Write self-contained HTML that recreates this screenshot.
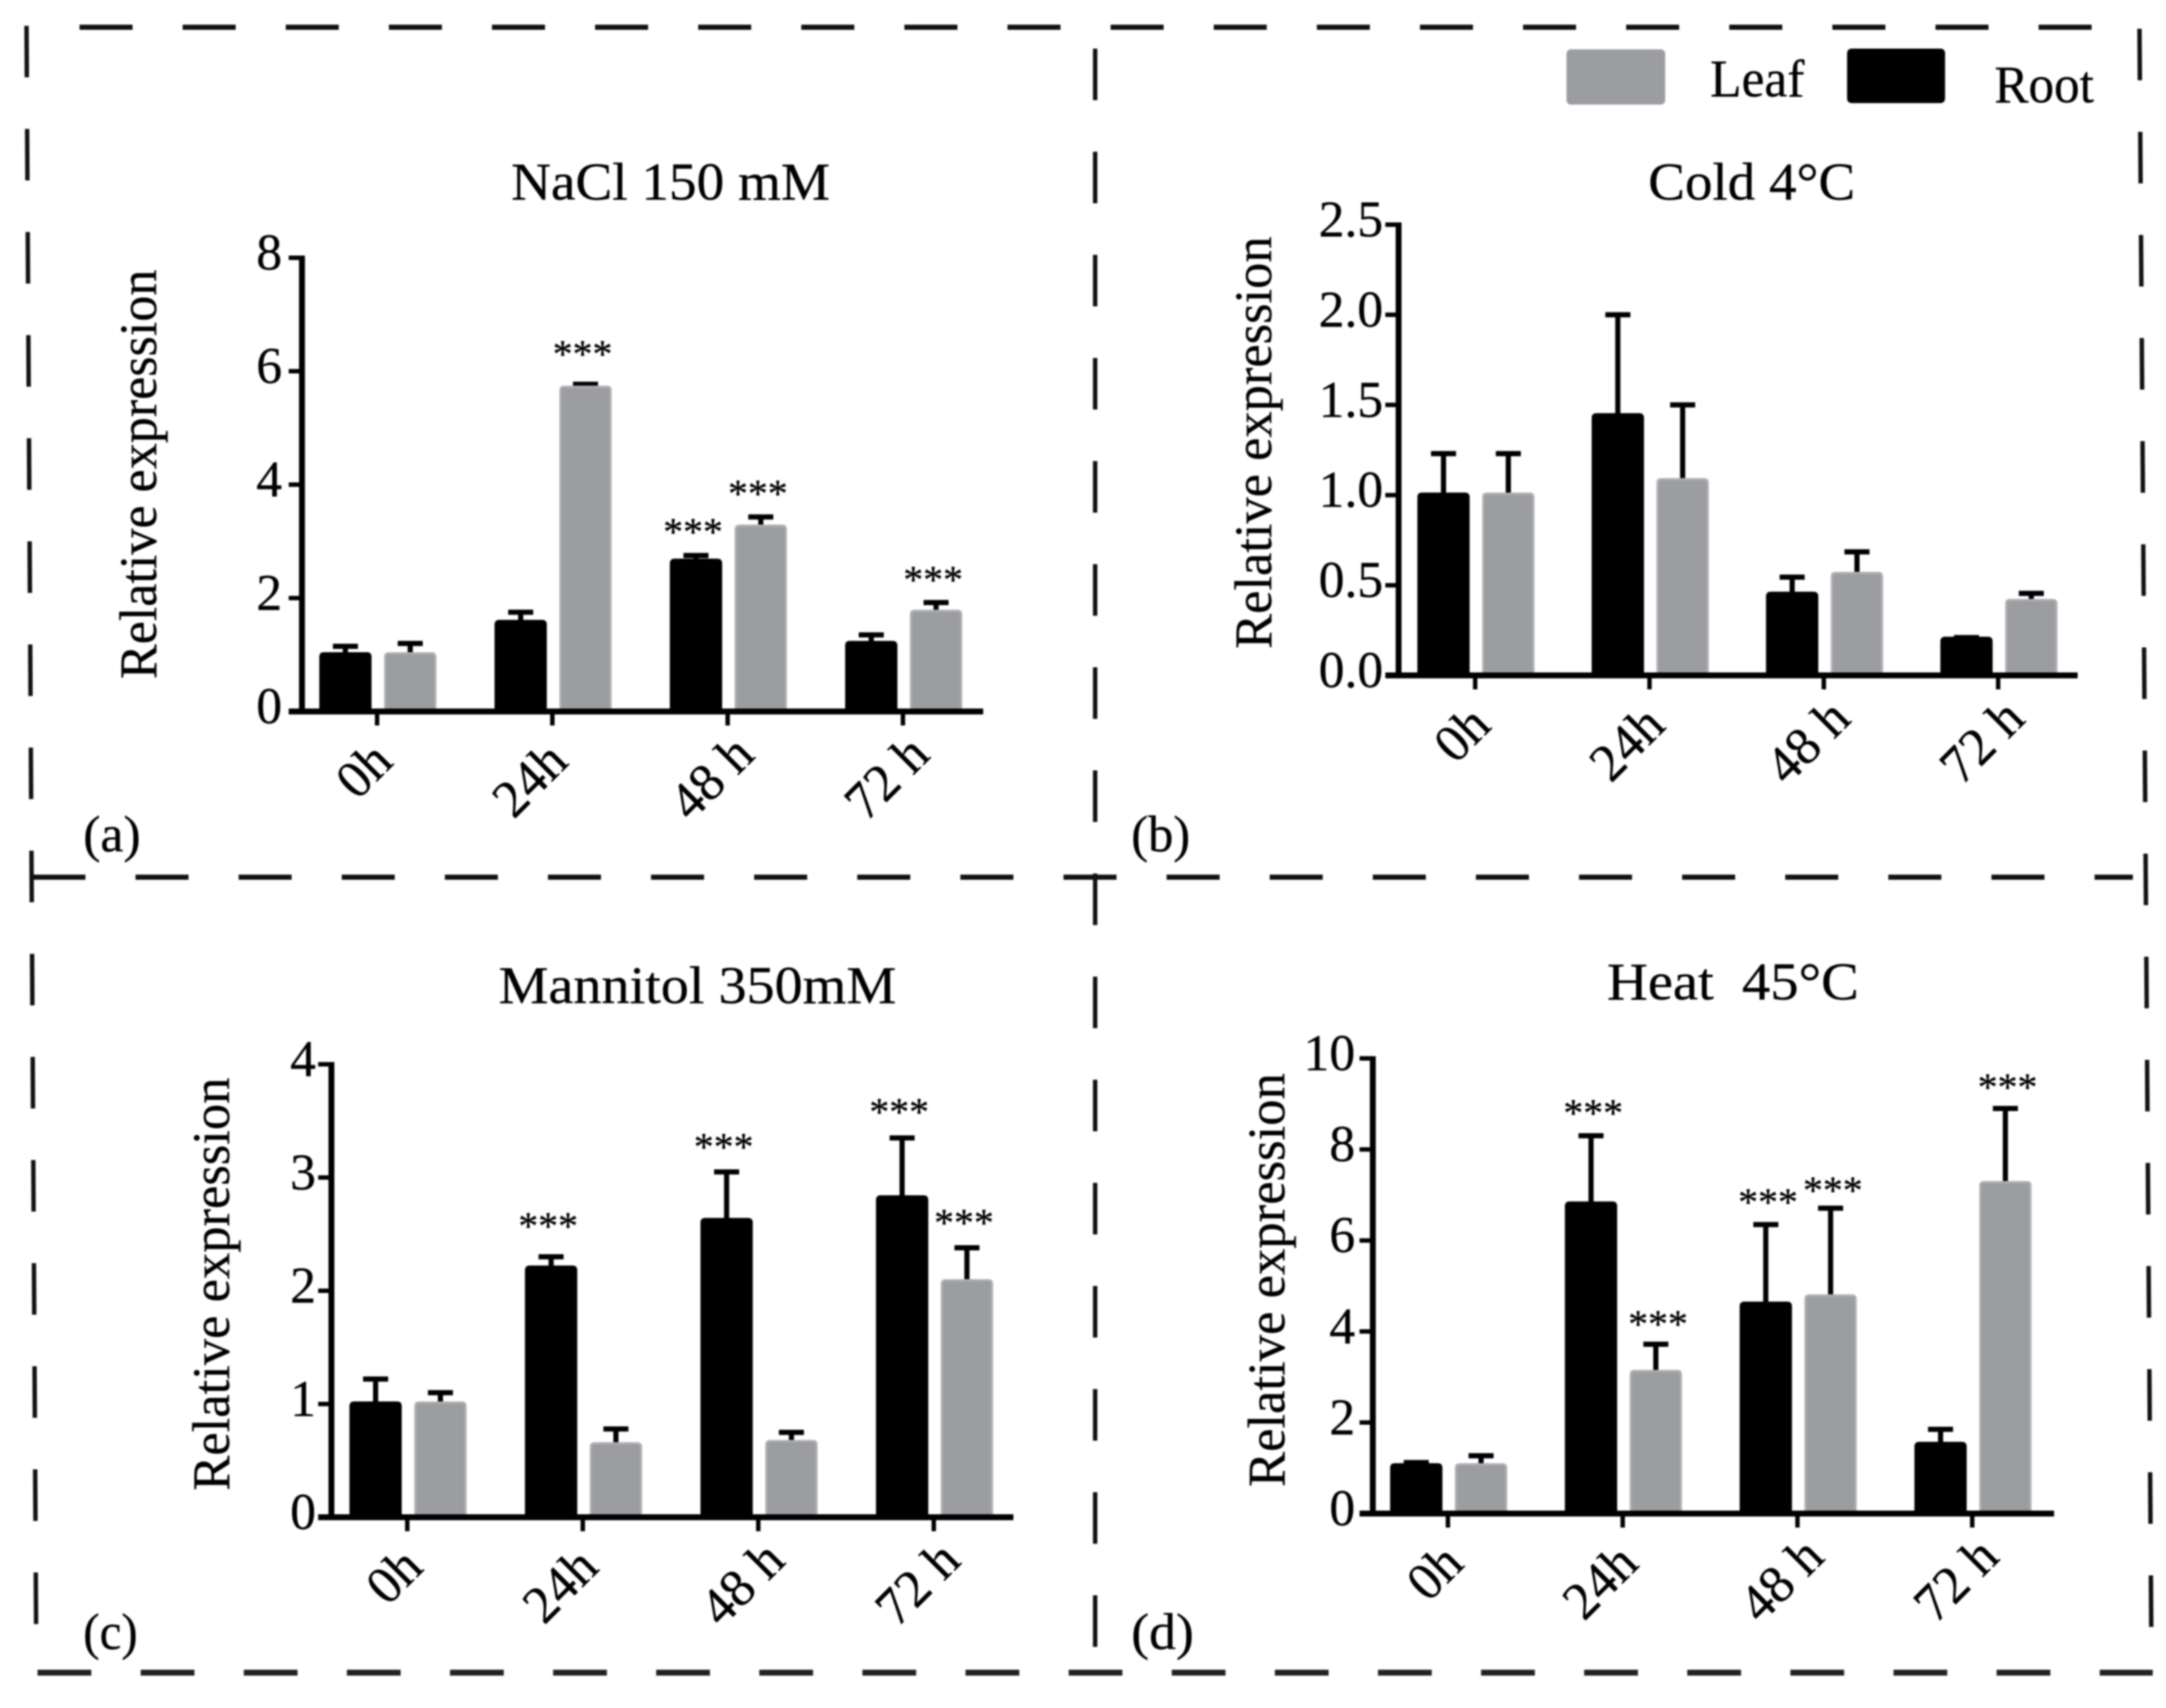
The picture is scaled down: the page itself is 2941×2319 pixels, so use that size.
<!DOCTYPE html>
<html lang="en">
<head>
<meta charset="utf-8">
<title>Relative expression under stress treatments</title>
<style>
html,body{margin:0;padding:0;background:#fff;width:2941px;height:2319px;overflow:hidden}
svg{display:block;filter:blur(1px)}
text{font-family:"Liberation Serif",serif;fill:#000;stroke:#000;stroke-width:.4px}
</style>
</head>
<body>
<svg id="figure" xmlns="http://www.w3.org/2000/svg" width="2941" height="2319" viewBox="0 0 2941 2319">
  <rect x="0" y="0" width="2941" height="2319" fill="#fff"/>

  <g stroke="#111" fill="none">
    <line x1="108" y1="37" x2="2840" y2="37" stroke-width="7" stroke-dasharray="72 68"/>
    <line x1="44" y1="1191" x2="2896" y2="1191" stroke-width="7" stroke-dasharray="72 68"/>
    <line x1="51" y1="2271" x2="2923" y2="2271" stroke-width="8" stroke-dasharray="73 67" stroke="#222"/>
    <line x1="36" y1="35" x2="49" y2="2205" stroke-width="6" stroke-dasharray="70 70"/>
    <line x1="1487" y1="66" x2="1487" y2="2236" stroke-width="6" stroke-dasharray="70 70"/>
    <line x1="2905" y1="39" x2="2921" y2="2209" stroke-width="6" stroke-dasharray="70 70"/>
  </g>

  <g>
    <rect x="2127" y="67" width="134" height="75" rx="6" fill="#9c9da1"/>
    <text x="2322" y="131" font-size="72" textLength="128" lengthAdjust="spacingAndGlyphs">Leaf</text>
    <rect x="2508" y="66" width="133" height="74" rx="6" fill="#000"/>
    <text x="2708" y="139" font-size="72" textLength="135" lengthAdjust="spacingAndGlyphs">Root</text>
  </g>

  <text x="694" y="271" font-size="72" textLength="433" lengthAdjust="spacingAndGlyphs">NaCl 150 mM</text>
  <text x="2238" y="271" font-size="72" textLength="281" lengthAdjust="spacingAndGlyphs">Cold 4°C</text>
  <text x="677" y="1362" font-size="72" textLength="540" lengthAdjust="spacingAndGlyphs">Mannitol 350mM</text>
  <text x="2182" y="1357" font-size="72" textLength="342" lengthAdjust="spacingAndGlyphs">Heat&#160;&#160;45°C</text>

  <text transform="translate(212 922) rotate(-90)" font-size="72" textLength="556" lengthAdjust="spacingAndGlyphs">Relative expression</text>
  <text transform="translate(1726 881) rotate(-90)" font-size="72" textLength="560" lengthAdjust="spacingAndGlyphs">Relative expression</text>
  <text transform="translate(311 2024) rotate(-90)" font-size="72" textLength="561" lengthAdjust="spacingAndGlyphs">Relative expression</text>
  <text transform="translate(1744 2019) rotate(-90)" font-size="72" textLength="562" lengthAdjust="spacingAndGlyphs">Relative expression</text>

  <text x="113" y="1156" font-size="70" textLength="78" lengthAdjust="spacingAndGlyphs">(a)</text>
  <text x="1536" y="1156" font-size="70" textLength="80" lengthAdjust="spacingAndGlyphs">(b)</text>
  <text x="113" y="2239" font-size="70" textLength="74" lengthAdjust="spacingAndGlyphs">(c)</text>
  <text x="1536" y="2239" font-size="70" textLength="85" lengthAdjust="spacingAndGlyphs">(d)</text>

  <g id="charts"></g>
</svg>

<script>
// Shared categories
const categories = ['0h', '24h', '48 h', '72 h'];

// (a) NaCl 150 mM
const naclTickValues = [0, 2, 4, 6, 8];
const naclTickLabels = ['0', '2', '4', '6', '8'];
const naclRoot = [1.0, 1.57, 2.65, 1.2];
const naclRootErr = [1.15, 1.75, 2.75, 1.35];
const naclLeaf = [1.0, 5.7, 3.25, 1.75];
const naclLeafErr = [1.2, 5.77, 3.43, 1.92];
const naclRootStars = [null, null, 3.25, null];
const naclLeafStars = [null, 6.38, 3.92, 2.4];

// (b) Cold 4°C
const coldTickValues = [0, 0.5, 1, 1.5, 2, 2.5];
const coldTickLabels = ['0.0', '0.5', '1.0', '1.5', '2.0', '2.5'];
const coldRoot = [1.0, 1.44, 0.45, 0.2];
const coldRootErr = [1.23, 2.0, 0.545, 0.21];
const coldLeaf = [1.0, 1.08, 0.56, 0.41];
const coldLeafErr = [1.23, 1.5, 0.685, 0.455];
const coldRootStars = [null, null, null, null];
const coldLeafStars = [null, null, null, null];

// (c) Mannitol 350 mM
const mannitolTickValues = [0, 1, 2, 3, 4];
const mannitolTickLabels = ['0', '1', '2', '3', '4'];
const mannitolRoot = [1.0, 2.2, 2.62, 2.82];
const mannitolRootErr = [1.22, 2.3, 3.05, 3.35];
const mannitolLeaf = [1.0, 0.64, 0.66, 2.08];
const mannitolLeafErr = [1.1, 0.78, 0.75, 2.38];
const mannitolRootStars = [null, 2.61, 3.31, 3.62];
const mannitolLeafStars = [null, null, null, 2.64];

// (d) Heat 45°C
const heatTickValues = [0, 2, 4, 6, 8, 10];
const heatTickLabels = ['0', '2', '4', '6', '8', '10'];
const heatRoot = [1.05, 6.8, 4.6, 1.52];
const heatRootErr = [1.12, 8.3, 6.35, 1.85];
const heatLeaf = [1.05, 3.1, 4.76, 7.25];
const heatLeafErr = [1.27, 3.72, 6.71, 8.9];
const heatRootStars = [null, 8.9, 6.94, null];
const heatLeafStars = [null, 4.26, 7.2, 9.47];

const SVG_NS = 'http://www.w3.org/2000/svg';
const chartsRoot = document.getElementById('charts');

function make(tag, parent, attrs) {
  const node = document.createElementNS(SVG_NS, tag);
  for (const key in attrs) node.setAttribute(key, attrs[key]);
  parent.appendChild(node);
  return node;
}

function drawBar(g, cx, top, bottom, fill, edge) {
  const w = 68, left = cx - w / 2, r = 5;
  const el = make('path', g, {
    d: 'M' + left + ' ' + bottom + 'V' + (top + r) + 'Q' + left + ' ' + top + ' ' + (left + r) + ' ' + top +
       'H' + (left + w - r) + 'Q' + (left + w) + ' ' + top + ' ' + (left + w) + ' ' + (top + r) + 'V' + bottom + 'Z',
    fill: fill,
    stroke: edge,
    'stroke-width': 3
  });
  return el;
}

function drawChart(opts) {
  const g = make('g', chartsRoot, {});
  
  

  const yPos = function (v) { return opts.y0 - (v / opts.yMax) * (opts.y0 - opts.yTop); };
  const xPos = function (i) { return opts.firstTick + i * opts.tickStep; };

  // error bars are painted first so the bars overlap the lower end
  categories.forEach(function (cat, i) {
    [[opts.root, opts.rootErr, -43, 'root'], [opts.leaf, opts.leafErr, 45, 'leaf']].forEach(function (s) {
      const cx = xPos(i) + s[2];
      const errGroup = make('g', g, { stroke: '#000', fill: 'none' });
      
      
      make('line', errGroup, { x1: cx, x2: cx, y1: yPos(s[0][i]), y2: yPos(s[1][i]), 'stroke-width': 7 });
      make('line', errGroup, { x1: cx - 17, x2: cx + 17, y1: yPos(s[1][i]), y2: yPos(s[1][i]), 'stroke-width': 7 });
    });
  });

  categories.forEach(function (cat, i) {
    const rootBar = drawBar(g, xPos(i) - 43, yPos(opts.root[i]) - 2, opts.y0, '#000', '#000');
    
    
    const leafBar = drawBar(g, xPos(i) + 45, yPos(opts.leaf[i]) - 2, opts.y0, '#9c9da1', '#aeafb2');
    
    

    if (opts.rootStars[i] !== null) {
      const star = make('text', g, { x: xPos(i) - 43 + opts.starDx, y: yPos(opts.rootStars[i]) + 24, 'font-size': 54, 'text-anchor': 'middle' });
      star.textContent = '***';
      
      
    }
    if (opts.leafStars[i] !== null) {
      const star = make('text', g, { x: xPos(i) + 45 + opts.starDx, y: yPos(opts.leafStars[i]) + 24, 'font-size': 54, 'text-anchor': 'middle' });
      star.textContent = '***';
      
      
    }

    const tick = make('line', g, { x1: xPos(i), x2: xPos(i), y1: opts.y0, y2: opts.y0 + 19, stroke: '#000', 'stroke-width': 6 });
    
    

    const spaced = cat.indexOf(' ') >= 0;
    const lx = xPos(i) + (spaced ? 39 : 24);
    const ly = opts.y0 + (spaced ? 62 : 71);
    const label = make('text', g, { 'font-size': 72, 'text-anchor': 'end', transform: 'translate(' + lx + ' ' + ly + ') rotate(-45)' });
    label.textContent = cat;
    
    
  });

  opts.tickValues.forEach(function (v, i) {
    const tick = make('line', g, { x1: opts.axisX - 18, x2: opts.axisX, y1: yPos(v), y2: yPos(v), stroke: '#000', 'stroke-width': 6 });
    
    
    const label = make('text', g, { x: opts.labelX, y: yPos(v) + 16, 'font-size': 70, 'text-anchor': 'end' });
    label.textContent = opts.tickLabels[i];
    
    
  });

  const yAxis = make('line', g, { x1: opts.axisX, x2: opts.axisX, y1: opts.yTop - 3, y2: opts.y0 + 3, stroke: '#000', 'stroke-width': 8 });
  
  
  const xAxis = make('line', g, { x1: opts.axisX - 18, x2: opts.xEnd, y1: opts.y0, y2: opts.y0, stroke: '#000', 'stroke-width': 8 });
  
  
}

drawChart({
  name: 'chart-nacl', axisX: 410, y0: 966, yTop: 350, yMax: 8, xEnd: 1335, firstTick: 512, tickStep: 238, labelX: 383, starDx: -4,
  tickValues: naclTickValues, tickLabels: naclTickLabels,
  root: naclRoot, rootErr: naclRootErr, leaf: naclLeaf, leafErr: naclLeafErr,
  rootStars: naclRootStars, leafStars: naclLeafStars
});
drawChart({
  name: 'chart-cold', axisX: 1899, y0: 917, yTop: 305, yMax: 2.5, xEnd: 2821, firstTick: 2003, tickStep: 236.7, labelX: 1878, starDx: 0,
  tickValues: coldTickValues, tickLabels: coldTickLabels,
  root: coldRoot, rootErr: coldRootErr, leaf: coldLeaf, leafErr: coldLeafErr,
  rootStars: coldRootStars, leafStars: coldLeafStars
});
drawChart({
  name: 'chart-mannitol', axisX: 450, y0: 2060, yTop: 1445, yMax: 4, xEnd: 1376, firstTick: 553, tickStep: 238.3, labelX: 429, starDx: -4,
  tickValues: mannitolTickValues, tickLabels: mannitolTickLabels,
  root: mannitolRoot, rootErr: mannitolRootErr, leaf: mannitolLeaf, leafErr: mannitolLeafErr,
  rootStars: mannitolRootStars, leafStars: mannitolLeafStars
});
drawChart({
  name: 'chart-heat', axisX: 1864, y0: 2055, yTop: 1437, yMax: 10, xEnd: 2789, firstTick: 1966, tickStep: 237.3, labelX: 1840, starDx: 3,
  tickValues: heatTickValues, tickLabels: heatTickLabels,
  root: heatRoot, rootErr: heatRootErr, leaf: heatLeaf, leafErr: heatLeafErr,
  rootStars: heatRootStars, leafStars: heatLeafStars
});
</script>
</body>
</html>
